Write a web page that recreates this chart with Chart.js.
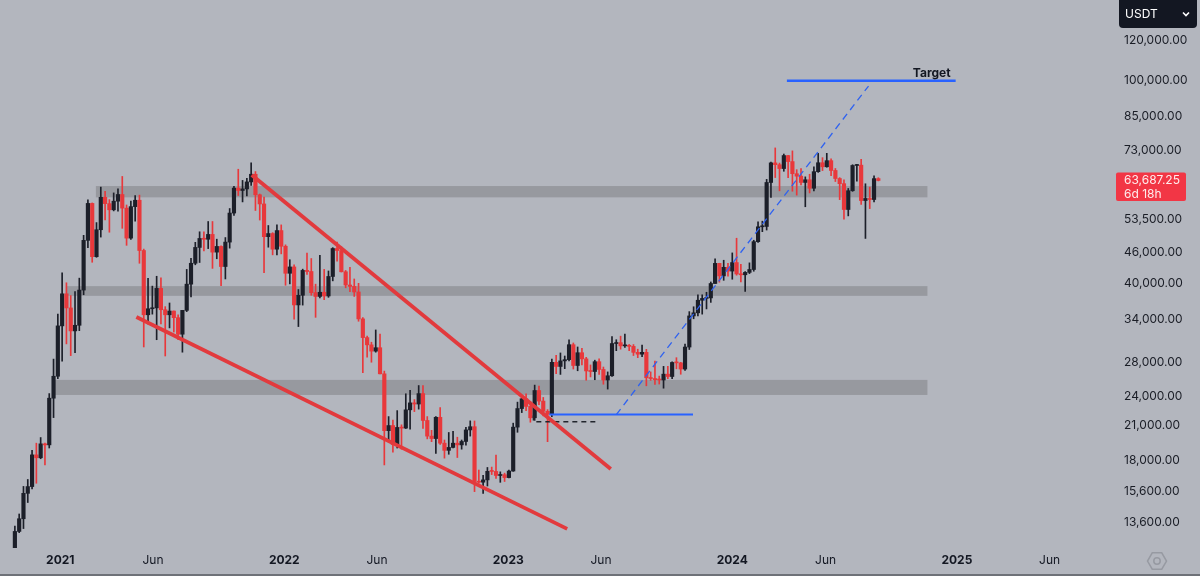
<!DOCTYPE html>
<html>
<head>
<meta charset="utf-8">
<script src="https://cdn.jsdelivr.net/npm/chart.js@4.4.1/dist/chart.umd.min.js"></script>
<style>
  html, body { margin: 0; padding: 0; background: #b3b6be; }
  #wrap { width: 1200px; height: 576px; }
</style>
</head>
<body>
<div id="wrap"><canvas id="chart" width="1200" height="576"></canvas></div>
<script>
// Weekly BTC/USDT candles, first bar opens Monday 2020-10-19
const firstWeekStart = '2020-10-19';

// [open, high, low, close]
const candles2020 = [
  [11500, 13350, 11400, 13030], [13030, 14100, 12960, 13800], [13800, 15970, 13200, 15480],
  [15480, 16480, 14850, 15960], [15960, 18800, 15800, 18420], [18420, 19420, 16200, 18180],
  [18180, 19920, 18100, 19360], [19360, 19420, 17600, 19270], [19270, 24300, 19000, 23800],
  [23800, 28400, 21800, 26280], [26280, 34800, 26000, 33000]
];
const candles2021 = [
  [33000, 41950, 28130, 38150], [38150, 40100, 30420, 35790], [35790, 37850, 28850, 32260],
  [32260, 38530, 29240, 33090], [33090, 40950, 32300, 38800], [38800, 49700, 37990, 48580],
  [48580, 58350, 47000, 57410], [57410, 57530, 44000, 45130], [45130, 52640, 45000, 50970],
  [50970, 61800, 49300, 59020], [59020, 60600, 53300, 57350], [57350, 58400, 50400, 55780],
  [55780, 60200, 55500, 57990], [57990, 61300, 55400, 59770], [59770, 64850, 51300, 56200],
  [56200, 57000, 47500, 49070], [49070, 58000, 48800, 56580], [56580, 59500, 53000, 58240],
  [58240, 59600, 43800, 46400], [46400, 46700, 30000, 34700], [34700, 40900, 33300, 35660],
  [35660, 39500, 34800, 35800], [35800, 41300, 31000, 39100], [39100, 41000, 33300, 35500],
  [35500, 36000, 28800, 34700], [34700, 36600, 32700, 35290], [35290, 35300, 32100, 34250],
  [34250, 34700, 31000, 31780], [31780, 35400, 29300, 35400], [35400, 42600, 35200, 39850],
  [39850, 44800, 37600, 43800], [43800, 48150, 43500, 47050], [47050, 50500, 43950, 49000],
  [49000, 50500, 46300, 48820], [48820, 52900, 46800, 49900], [49900, 52900, 42800, 46060],
  [46060, 48840, 44700, 47260], [47260, 47400, 39600, 43160], [43160, 49200, 40800, 48200],
  [48200, 56100, 46900, 54960], [54960, 62000, 54400, 61530], [61530, 67000, 59500, 60860],
  [60860, 63700, 57800, 61300], [61300, 64270, 59400, 63270], [63270, 69000, 62300, 65500],
  [65500, 66300, 55600, 59700], [59700, 59900, 53250, 57270], [57270, 59100, 42000, 49400],
  [49400, 51950, 47100, 50100], [50100, 50300, 45500, 46680], [46680, 52100, 45500, 50780],
  [50780, 52100, 45700, 47300]
];
const candles2022 = [
  [47300, 47600, 39650, 41860], [41860, 44500, 39900, 43080], [43080, 43500, 34000, 36280],
  [36280, 38900, 32900, 37900], [37900, 42650, 36250, 42410], [42410, 45850, 41650, 42200],
  [42200, 44750, 37900, 38350], [38350, 39850, 34300, 37700], [37700, 45400, 37450, 38420],
  [38420, 42600, 37150, 37780], [37780, 42300, 37550, 41260], [41260, 47000, 40450, 46820],
  [46820, 48200, 44200, 46400], [46400, 47200, 42100, 42150], [42150, 42400, 39200, 39700],
  [39700, 42980, 38500, 39450], [39450, 40800, 37700, 38470], [38470, 40000, 33700, 34060],
  [34060, 34250, 26700, 31300], [31300, 31500, 28650, 30290], [30290, 30650, 28000, 29440],
  [29440, 32400, 29300, 29900], [29900, 31800, 26560, 26570], [26570, 26900, 17600, 20550],
  [20550, 21900, 19650, 21030], [21030, 21550, 18650, 19300], [19300, 22500, 19000, 20850],
  [20850, 21100, 18900, 20790], [20790, 24280, 20750, 22580], [22580, 24670, 20700, 23300],
  [23300, 23650, 22400, 23180], [23180, 25200, 22650, 24300], [24300, 25200, 20750, 21520],
  [21520, 21900, 19800, 20050], [20050, 20580, 19550, 19830], [19830, 21900, 18550, 21830],
  [21830, 22800, 19320, 19420], [19420, 19700, 18150, 18800], [18800, 20380, 18470, 19050],
  [19050, 20480, 19000, 19420], [19420, 19950, 18200, 19270], [19270, 19700, 18900, 19570],
  [19570, 20850, 19240, 20620], [20620, 21480, 20050, 20920], [20920, 21470, 15600, 16330],
  [16330, 17200, 16200, 16280], [16280, 16800, 15480, 16450], [16450, 17400, 16000, 17100],
  [17100, 17430, 16850, 17090], [17090, 18400, 16550, 16780], [16780, 17060, 16270, 16840],
  [16840, 16960, 16330, 16620]
];
const candles2023 = [
  [16620, 17190, 16600, 17120], [17120, 21260, 17100, 20880], [20880, 23380, 20400, 22710],
  [22710, 23950, 22300, 23740], [23740, 24260, 22500, 22930], [22930, 23450, 21350, 21780],
  [21780, 25250, 21530, 24640], [24640, 25130, 23100, 23490], [23490, 23880, 21970, 22430],
  [22430, 22600, 19550, 22130], [22130, 28400, 21900, 27990], [27990, 28900, 26600, 27470],
  [27470, 29200, 26500, 28170], [28170, 28800, 27200, 28330], [28330, 31000, 28170, 30310],
  [30310, 30550, 27150, 27590], [27590, 30000, 26940, 29230], [29230, 29830, 27660, 28430],
  [28430, 28630, 25810, 26920], [26920, 27660, 26200, 26850], [26850, 28260, 25870, 28070],
  [28070, 28450, 26500, 27100], [27100, 27400, 25350, 25840], [25840, 26800, 24800, 26340],
  [26340, 31430, 26250, 30470], [30470, 31000, 29500, 30590], [30590, 31500, 29700, 30150],
  [30150, 31800, 29950, 30230], [30230, 30340, 29500, 30080], [30080, 30330, 28860, 29280],
  [29280, 29700, 28580, 29040], [29040, 30250, 28700, 29280], [29280, 29680, 25170, 26100],
  [26100, 26800, 25800, 26010], [26010, 28140, 25330, 25870], [25870, 26300, 25370, 25840],
  [25840, 27480, 24900, 26530], [26530, 27480, 26000, 26250], [26250, 28050, 26000, 27970],
  [27970, 28580, 27180, 27920], [27920, 27990, 26520, 27150], [27150, 30380, 26970, 29990],
  [29990, 35200, 29660, 34520], [34520, 35980, 34080, 35010], [35010, 37980, 34520, 37060],
  [37060, 37980, 34800, 37360], [37360, 38420, 35630, 37450], [37450, 40250, 36700, 39970],
  [39970, 44700, 39970, 43780], [43780, 43800, 40200, 41370], [41370, 44400, 40550, 43010],
  [43010, 43800, 41300, 42280]
];
const candles2024 = [
  [42280, 45900, 40750, 43940], [43940, 49050, 41500, 41730], [41730, 43580, 40280, 41580],
  [41580, 42200, 38550, 42030], [42030, 43880, 41800, 42580], [42580, 48600, 42250, 48300],
  [48300, 52800, 48150, 51650], [51650, 52980, 50520, 51730], [51730, 64000, 50900, 63110],
  [63110, 69170, 59000, 68960], [68960, 73780, 64530, 68390], [68390, 68900, 60770, 67210],
  [67210, 71770, 66390, 71280], [71280, 71370, 64490, 69360], [69360, 72800, 60660, 65660],
  [65660, 66870, 59600, 64940], [64940, 67230, 62400, 63120], [63120, 64730, 56550, 63890],
  [63890, 65500, 60190, 61480], [61480, 67700, 60750, 66270], [66270, 71980, 66060, 69000],
  [69000, 70600, 66600, 67750], [67750, 71990, 67620, 69650], [69650, 70200, 65080, 66630],
  [66630, 67230, 63380, 64250], [64250, 64500, 58400, 62770], [62770, 63860, 53490, 55850],
  [55850, 61420, 54260, 60800], [60800, 68380, 60630, 68150], [68150, 68480, 63450, 68250],
  [68250, 70080, 57120, 58160], [58160, 62740, 49000, 58710], [58710, 61800, 56080, 58430],
  [58430, 65000, 57780, 64220], [64220, 64480, 63560, 63687.25]
];

const lastPrice = 63687.25;
const lastPriceCountdown = '6d 18h';

// Axis ticks
const yTickValues = [13600, 15600, 18000, 21000, 24000, 28000, 34000, 40000, 46000, 53500, 73000, 85000, 100000, 120000];
const xTickDates = ['2021-01-01', '2021-06-01', '2022-01-01', '2022-06-01', '2023-01-01', '2023-06-01', '2024-01-01', '2024-06-01', '2025-01-01', '2025-06-01'];
const xTickLabels = ['2021', 'Jun', '2022', 'Jun', '2023', 'Jun', '2024', 'Jun', '2025', 'Jun'];

// Drawn levels: [from, to, lowPrice, highPrice]
const zones = [
  ['2021-02-28', '2024-11-14', 59000, 62100],
  ['2021-01-10', '2024-11-14', 37800, 39500],
  ['2020-12-21', '2024-11-14', 24150, 25850]
];
// Drawn lines: [date, price] points
const upperWedge = [['2021-11-09', 65300], ['2023-06-17', 17280]];
const lowerWedge = [['2021-05-05', 34360], ['2023-04-07', 13180]];
const breakoutLevel = [['2023-03-09', 22100], ['2023-10-29', 22100]];
const retestDash = [['2023-02-11', 22000], ['2023-02-11', 21400], ['2023-05-27', 21400]];
const projection = [['2023-06-26', 22100], ['2024-08-10', 97600]];
const targetLevel = [['2024-03-30', 100000], ['2024-12-30', 100000]];
const targetText = 'Target';

const DAY = 86400000;
const ts = s => Date.parse(s.length > 10 ? s + 'Z' : s + 'T00:00:00Z');
const xMin = ts('2020-09-24T18:00:00');
const xMax = ts('2025-09-07T12:00:00');

const FONT = 'Inter, "Noto Sans", sans-serif';
const UP = '#1c1f29';
const DOWN = '#e8383b';

const candles = [...candles2020, ...candles2021, ...candles2022, ...candles2023, ...candles2024];
const t0 = ts(firstWeekStart);
const xs = candles.map((c, i) => t0 + i * 7 * DAY);
const colors = candles.map(c => (c[3] >= c[0] ? UP : DOWN));
const wickData = candles.map((c, i) => ({ x: xs[i], y: [c[2], c[1]] }));
const bodyData = candles.map((c, i) => ({ x: xs[i], y: [Math.min(c[0], c[3]), Math.max(c[0], c[3])] }));
const pts = arr => arr.map(p => ({ x: ts(p[0]), y: p[1] }));

function lineSet(points, color, width, dash) {
  return {
    type: 'line', data: pts(points), borderColor: color, borderWidth: width,
    borderDash: dash || [], pointRadius: 0, fill: false, tension: 0, order: 1
  };
}

const fmt = v => Number(v).toLocaleString('en-US', { minimumFractionDigits: 2, maximumFractionDigits: 2 });

const bgPlugin = {
  id: 'bg',
  beforeDraw(chart) {
    const c = chart.ctx;
    c.save();
    c.fillStyle = '#b3b6be';
    c.fillRect(0, 0, chart.width, chart.height);
    c.restore();
  }
};

const zonePlugin = {
  id: 'zones',
  beforeDatasetsDraw(chart) {
    const c = chart.ctx, x = chart.scales.x, y = chart.scales.y;
    c.save();
    c.fillStyle = '#97999f';
    zones.forEach(z => {
      const x1 = x.getPixelForValue(ts(z[0])), x2 = x.getPixelForValue(ts(z[1]));
      const y1 = y.getPixelForValue(z[3]), y2 = y.getPixelForValue(z[2]);
      c.fillRect(x1, y1, x2 - x1, y2 - y1);
    });
    c.restore();
  }
};

const overlayPlugin = {
  id: 'overlay',
  afterDraw(chart) {
    const c = chart.ctx, x = chart.scales.x, y = chart.scales.y;
    c.save();

    // target label
    const tx = x.getPixelForValue(ts(targetLevel[1][0])) - 5;
    const ty = y.getPixelForValue(targetLevel[1][1]) - 4;
    c.font = 'bold 12px ' + FONT;
    c.fillStyle = '#131722';
    c.textAlign = 'right';
    c.textBaseline = 'alphabetic';
    c.fillText(targetText, tx, ty);

    // last price tag
    const py = y.getPixelForValue(lastPrice);
    c.fillStyle = '#f23645';
    c.beginPath();
    c.roundRect(1116, py - 8, 70, 28.5, 2);
    c.fill();
    c.fillStyle = '#ffecec';
    c.textAlign = 'left';
    c.textBaseline = 'middle';
    c.font = '12px ' + FONT;
    c.fillText(fmt(lastPrice), 1124, py);
    c.fillText(lastPriceCountdown, 1124, py + 13.5);

    // currency button
    c.fillStyle = '#131722';
    c.beginPath();
    c.roundRect(1119, -5, 78, 33, 4);
    c.fill();
    c.fillStyle = '#ffffff';
    c.fillText('USDT', 1125, 14);
    c.strokeStyle = '#ffffff';
    c.lineWidth = 1.6;
    c.beginPath();
    c.moveTo(1183, 12.5); c.lineTo(1186, 15.5); c.lineTo(1189, 12.5);
    c.stroke();

    // settings hexagon
    c.strokeStyle = '#979aa2';
    c.lineWidth = 1.5;
    c.beginPath();
    for (let k = 0; k < 6; k++) {
      const a = Math.PI / 3 * k;
      const hx = 1157 + 9.5 * Math.cos(a), hy = 561 + 9.5 * Math.sin(a);
      if (k === 0) c.moveTo(hx, hy); else c.lineTo(hx, hy);
    }
    c.closePath();
    c.stroke();
    c.beginPath();
    c.arc(1157, 561, 3.2, 0, Math.PI * 2);
    c.stroke();

    // bottom edge
    c.fillStyle = '#6e7178';
    c.fillRect(0, 574, chart.width, 2);
    c.restore();
  }
};

new Chart(document.getElementById('chart'), {
  type: 'bar',
  data: {
    datasets: [
      { data: wickData, backgroundColor: colors, barThickness: 1, grouped: false, order: 11, borderWidth: 0, minBarLength: 1 },
      { data: bodyData, backgroundColor: colors, barThickness: 3.5, grouped: false, order: 10, borderWidth: 0, minBarLength: 1 },
      lineSet(upperWedge, '#e23a3d', 3.8),
      lineSet(lowerWedge, '#e23a3d', 3.8),
      lineSet(breakoutLevel, '#2962ff', 2),
      lineSet(retestDash, '#22252d', 1.5, [5, 4]),
      lineSet(projection, '#2f62f0', 1.3, [7, 5]),
      lineSet(targetLevel, '#2962ff', 2.5)
    ]
  },
  options: {
    responsive: false,
    devicePixelRatio: 1,
    animation: false,
    layout: { padding: 0 },
    plugins: { legend: { display: false }, tooltip: { enabled: false } },
    scales: {
      x: {
        type: 'linear',
        min: xMin,
        max: xMax,
        offset: false,
        grid: { display: false, drawTicks: false },
        border: { display: false },
        afterBuildTicks: s => { s.ticks = xTickDates.map(d => ({ value: ts(d) })); },
        afterFit: s => { s.height = 28; s.paddingLeft = 0; s.paddingRight = 0; },
        ticks: {
          autoSkip: false,
          maxRotation: 0,
          padding: 5,
          color: '#131722',
          font: ctx => ({ family: FONT, size: 12, weight: ctx.tick && /^\d{4}$/.test(ctx.tick.label) ? 'bold' : 'normal' }),
          callback: (v, i) => xTickLabels[i]
        }
      },
      y: {
        type: 'logarithmic',
        position: 'right',
        min: 12090,
        max: 144000,
        bounds: 'data',
        grid: { display: false, drawTicks: false },
        border: { display: false },
        afterBuildTicks: s => { s.ticks = yTickValues.map(v => ({ value: v })); },
        afterFit: s => { s.width = 90; s.paddingTop = 0; s.paddingBottom = 0; },
        ticks: {
          autoSkip: false,
          padding: 14,
          color: '#1a1d26',
          font: { family: FONT, size: 12 },
          callback: v => fmt(v)
        }
      }
    }
  },
  plugins: [bgPlugin, zonePlugin, overlayPlugin]
});
</script>
</body>
</html>
